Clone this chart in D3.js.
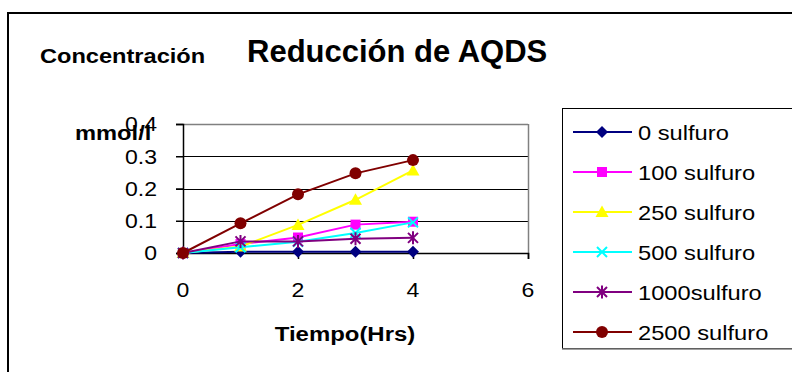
<!DOCTYPE html>
<html>
<head>
<meta charset="utf-8">
<script src="https://cdn.jsdelivr.net/npm/d3@7"></script>
<style>
  html, body { margin: 0; padding: 0; background: #fff; }
  svg { display: block; font-family: "Liberation Sans", Arial, sans-serif; }
</style>
</head>
<body>
<svg id="chart" width="792" height="372"></svg>
<script>
// Time points (hours) and AQDS concentration (mmol/l) per sulfide dose
const tiempo = [0, 1, 2, 3, 4];
const serieNames = ["0 sulfuro", "100 sulfuro", "250 sulfuro", "500 sulfuro", "1000sulfuro", "2500 sulfuro"];
const s0    = [0, 0.004, 0.004, 0.004, 0.004];
const s100  = [0, 0.028, 0.048, 0.088, 0.097];
const s250  = [0, 0.020, 0.087, 0.165, 0.256];
const s500  = [0, 0.018, 0.035, 0.062, 0.095];
const s1000 = [0, 0.036, 0.036, 0.044, 0.047];
const s2500 = [0, 0.092, 0.182, 0.247, 0.288];
const xTicks = [0, 2, 4, 6];
const yTicks = [0, 0.1, 0.2, 0.3, 0.4];
const yTickLabels = ["0", "0.1", "0.2", "0.3", "0.4"];

const seriesValues = [s0, s100, s250, s500, s1000, s2500];
const colors  = ["#000080", "#FF00FF", "#FFFF00", "#00FFFF", "#800080", "#800000"];
const markers = ["diamond", "square", "triangle", "cross", "star", "circle"];

const svg = d3.select("#chart");

// Text helper with a slight horizontal stretch
function label(x, y, txt, size, weight, anchor, sx) {
  return svg.append("text")
    .attr("transform", `translate(${x},${y}) scale(${sx},1)`)
    .attr("text-anchor", anchor || "start")
    .attr("font-size", size)
    .attr("font-weight", weight || "normal")
    .attr("fill", "#000")
    .text(txt);
}

// Outer chart frame
svg.append("rect").attr("x", 8).attr("y", 13).attr("width", 820).attr("height", 420)
  .attr("fill", "#fff").attr("stroke", "#000").attr("stroke-width", 2);

// Scales
const x = d3.scaleLinear().domain([0, 6]).range([183, 528]);
const y = d3.scaleLinear().domain([0, 0.4]).range([253, 124]);

// Gridlines (with outward tick stubs)
svg.append("g").selectAll("line").data(yTicks.slice(1, 4)).join("line")
  .attr("x1", 176).attr("x2", x(6))
  .attr("y1", d => Math.round(y(d)) + 0.5).attr("y2", d => Math.round(y(d)) + 0.5)
  .attr("stroke", "#000").attr("stroke-width", 1);
// Top and right edges of the plot area
svg.append("line").attr("x1", x(0)).attr("x2", x(6))
  .attr("y1", Math.round(y(0.4)) + 0.5).attr("y2", Math.round(y(0.4)) + 0.5)
  .attr("stroke", "#808080").attr("stroke-width", 1.5);
svg.append("line").attr("x1", x(6) + 0.5).attr("x2", x(6) + 0.5)
  .attr("y1", y(0.4)).attr("y2", y(0))
  .attr("stroke", "#808080").attr("stroke-width", 1.5);

// Axes
const yAxis = d3.axisLeft(y).tickValues(yTicks).tickSize(7).tickFormat(() => "");
const gy = svg.append("g").attr("transform", `translate(${x(0)},0)`).call(yAxis);
gy.selectAll("path, line").attr("stroke", "#000").attr("stroke-width", 1.5);
const xAxis = d3.axisBottom(x).tickValues(xTicks).tickSize(6).tickFormat(() => "");
const gx = svg.append("g").attr("transform", `translate(0,${y(0)})`).call(xAxis);
gx.selectAll("path, line").attr("stroke", "#000").attr("stroke-width", 1.5);

// Tick labels
yTicks.forEach((t, i) => label(157, y(t) + 7.3, yTickLabels[i], 20.5, "normal", "end", 1.124));
xTicks.forEach(t => label(x(t), 297, String(t), 20.5, "normal", "middle", 1.124));

// Marker drawing
function drawMarker(g, type, cx, cy, color) {
  if (type === "diamond") {
    g.append("path").attr("d", `M${cx},${cy - 6}L${cx + 6},${cy}L${cx},${cy + 6}L${cx - 6},${cy}Z`)
      .attr("fill", color);
  } else if (type === "square") {
    g.append("rect").attr("x", cx - 5).attr("y", cy - 5).attr("width", 10).attr("height", 10).attr("fill", color);
  } else if (type === "triangle") {
    g.append("path").attr("d", `M${cx},${cy - 6.5}L${cx + 6.5},${cy + 5}L${cx - 6.5},${cy + 5}Z`).attr("fill", color);
  } else if (type === "cross") {
    g.append("path").attr("d", `M${cx - 5},${cy - 5}L${cx + 5},${cy + 5}M${cx + 5},${cy - 5}L${cx - 5},${cy + 5}`)
      .attr("stroke", color).attr("stroke-width", 2).attr("fill", "none");
  } else if (type === "star") {
    g.append("path").attr("d",
      `M${cx - 5},${cy - 5}L${cx + 5},${cy + 5}M${cx + 5},${cy - 5}L${cx - 5},${cy + 5}M${cx},${cy - 6.5}L${cx},${cy + 6.5}`)
      .attr("stroke", color).attr("stroke-width", 2).attr("fill", "none");
  } else {
    g.append("circle").attr("cx", cx).attr("cy", cy).attr("r", 6).attr("fill", color);
  }
}

// Series lines and markers
const line = d3.line().x((d, i) => x(tiempo[i])).y(d => y(d));
seriesValues.forEach((vals, k) => {
  const g = svg.append("g");
  g.append("path").datum(vals).attr("d", line)
    .attr("fill", "none").attr("stroke", colors[k]).attr("stroke-width", 2);
  vals.forEach((v, i) => drawMarker(g, markers[k], x(tiempo[i]), y(v), colors[k]));
});

// Titles
label(40, 63, "Concentración", 20, "bold", "start", 1.18);
label(247, 62, "Reducción de AQDS", 31, "bold", "start", 1.0);
label(75, 140, "mmol/l", 21, "bold", "start", 1.128);
label(345, 341, "Tiempo(Hrs)", 21, "bold", "middle", 1.14);

// Legend
const lg = svg.append("g");
lg.append("rect").attr("x", 562.5).attr("y", 108.5).attr("width", 300).attr("height", 240)
  .attr("fill", "#fff").attr("stroke", "#000").attr("stroke-width", 1);
lg.append("line").attr("x1", 562).attr("x2", 792).attr("y1", 349).attr("y2", 349)
  .attr("stroke", "#808080").attr("stroke-width", 1.5);
serieNames.forEach((name, k) => {
  const cy = 132 + k * 40;
  lg.append("line").attr("x1", 573).attr("x2", 632).attr("y1", cy).attr("y2", cy)
    .attr("stroke", colors[k]).attr("stroke-width", 2);
  drawMarker(lg, markers[k], 602, cy, colors[k]);
  label(638, cy + 7.5, name, 21, "normal", "start", 1.128);
});
</script>
</body>
</html>
